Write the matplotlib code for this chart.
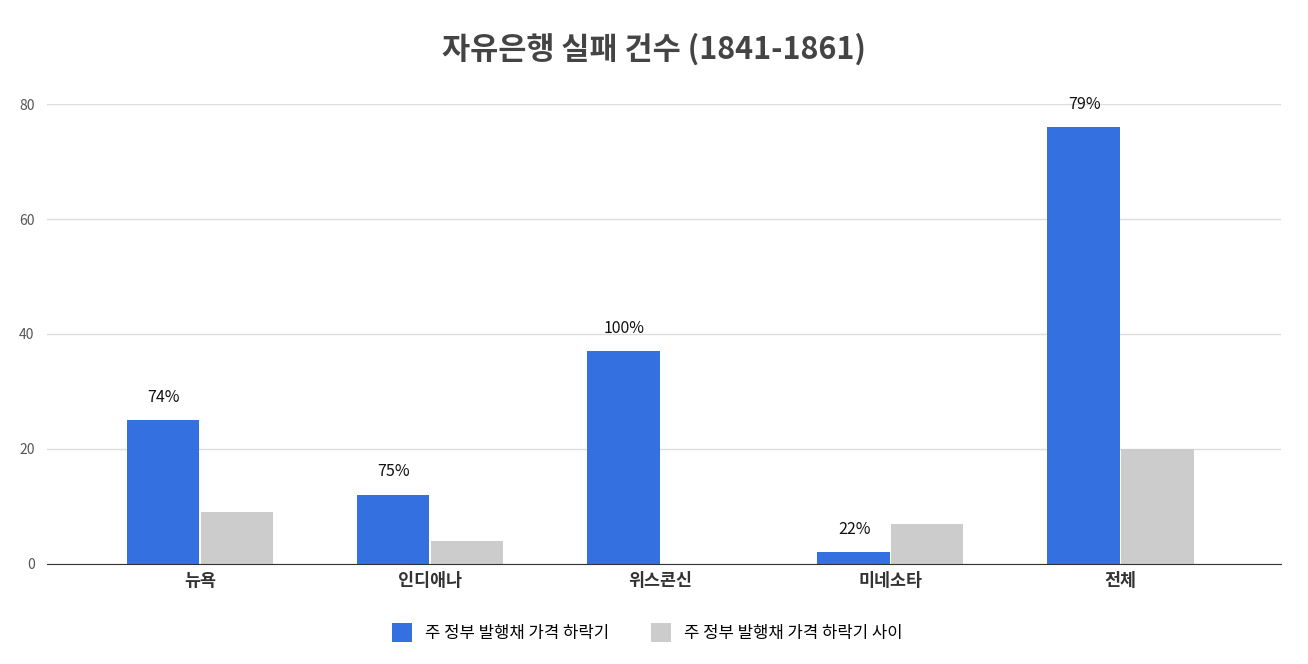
import matplotlib
matplotlib.use("Agg")
import matplotlib.pyplot as plt
import numpy as np

plt.rcParams['font.family'] = ['Noto Sans CJK KR', 'DejaVu Sans']

categories = ['뉴욕', '인디애나', '위스콘신', '미네소타', '전체']
during = [25, 12, 37, 2, 76]
between = [9, 4, 0, 7, 20]
pct_labels = ['74%', '75%', '100%', '22%', '79%']
series_names = ['주 정부 발행채 가격 하락기', '주 정부 발행채 가격 하락기 사이']

fig = plt.figure(figsize=(13.08, 6.64), dpi=100)
ax = fig.add_axes([0.036, 0.151, 0.943, 0.692])
x = np.arange(len(categories))
w = 0.315
b1 = ax.bar(x - w/2 - 0.003, during, w, color='#3570E0', label=series_names[0])
b2 = ax.bar(x + w/2 + 0.003, between, w, color='#CCCCCC', label=series_names[1])
for xi, v, t in zip(x, during, pct_labels):
    ax.text(xi - w/2, v + 2.5, t, ha='center', va='bottom', fontsize=11.5, color='#111111')
ax.set_xlim(-0.665, 4.696)
ax.set_ylim(0, 80)
ax.set_yticks([0, 20, 40, 60, 80])
ax.yaxis.grid(True, color='#DDDDDD', linewidth=1)
ax.set_axisbelow(True)
for s in ['top', 'right', 'left']:
    ax.spines[s].set_visible(False)
ax.spines['bottom'].set_color('#333333')
ax.tick_params(axis='y', length=0, labelsize=10, colors='#555555', pad=9)
ax.tick_params(axis='x', length=0, labelsize=12.5, pad=6)
ax.set_xticks(x)
ax.set_xticklabels(categories, fontweight='bold', color='#333333')
fig.suptitle('자유은행 실패 건수 (1841-1861)', fontsize=22, fontweight='bold', color='#444444', y=0.95)
fig.legend(handles=[b1, b2], labels=series_names, loc='lower center', ncol=2,
           bbox_to_anchor=(0.495, 0.01), frameon=False, fontsize=12, handlelength=1.2,
           handleheight=1.4, columnspacing=2.5)
fig.savefig('out.png', dpi=100)
